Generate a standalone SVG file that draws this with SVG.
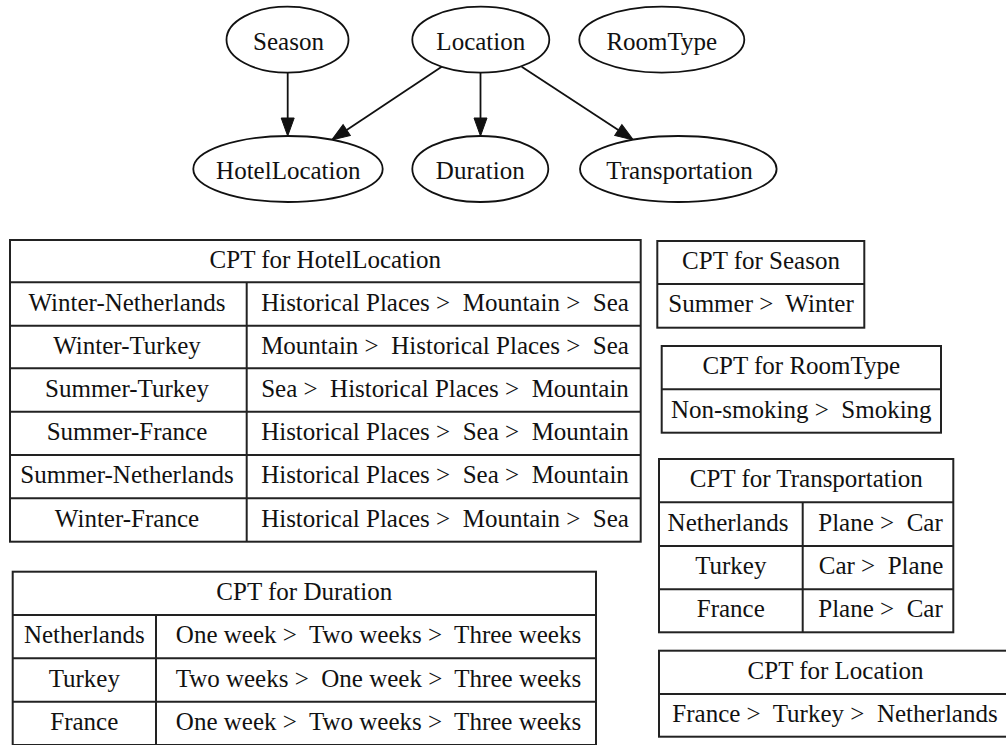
<svg xmlns="http://www.w3.org/2000/svg" width="1006" height="745" viewBox="0 0 1006 745">
  <style>
    .node ellipse { fill: #ffffff; stroke: #111111; stroke-width: 1.8; }
    .node text { font-family: "Liberation Serif", "Times New Roman", serif; font-size: 25px; fill: #111111; text-anchor: middle; }
    .edge { fill: none; stroke: #111111; stroke-width: 1.8; }
    .cpt rect { fill: #ffffff; stroke: #222222; stroke-width: 2; }
    .cpt line { stroke: #222222; stroke-width: 2; }
    .cpt text { font-family: "Liberation Serif", "Times New Roman", serif; font-size: 25px; fill: #111111; text-anchor: middle; }
  </style>
  <defs>
    <marker id="arrow" markerUnits="userSpaceOnUse" markerWidth="20" markerHeight="14" viewBox="0 -7 20 14" refX="0" refY="0" orient="auto" overflow="visible">
      <path d="M0,-6.5 L18,0 L0,6.5 Z" fill="#111111" stroke="#111111" stroke-width="1"/>
    </marker>
  </defs>

  <rect width="1006" height="745" fill="#ffffff"/>

  <!-- Bayesian network -->
  <g id="edges">
    <path class="edge" d="M287.7,72.7 L287.7,118" marker-end="url(#arrow)"/>
    <path class="edge" d="M441.7,66.7 L346.7,130" marker-end="url(#arrow)"/>
    <path class="edge" d="M480.5,72.7 L480.5,118" marker-end="url(#arrow)"/>
    <path class="edge" d="M521.7,66.7 L618.3,130.1" marker-end="url(#arrow)"/>
  </g>

  <g id="node-season" class="node">
    <ellipse cx="287.5" cy="39.7" rx="61" ry="33"/>
    <text x="288.5" y="49.5">Season</text>
  </g>
  <g id="node-location" class="node">
    <ellipse cx="480.8" cy="39.7" rx="68.5" ry="33"/>
    <text x="480.8" y="49.5">Location</text>
  </g>
  <g id="node-roomtype" class="node">
    <ellipse cx="661.8" cy="39.7" rx="82.5" ry="33"/>
    <text x="661.8" y="49.5">RoomType</text>
  </g>
  <g id="node-hotellocation" class="node">
    <ellipse cx="288" cy="169" rx="94.7" ry="33"/>
    <text x="288.3" y="178.5">HotelLocation</text>
  </g>
  <g id="node-duration" class="node">
    <ellipse cx="480.3" cy="169" rx="68" ry="33"/>
    <text x="480.3" y="178.5">Duration</text>
  </g>
  <g id="node-transportation" class="node">
    <ellipse cx="678.3" cy="169" rx="98.3" ry="33"/>
    <text x="679.5" y="178.5">Transportation</text>
  </g>

  <!-- Conditional probability tables -->
  <g id="cpt-hotellocation" class="cpt">
    <rect x="10" y="240" width="630.7" height="301.7"/>
    <line x1="10" y1="282.3" x2="640.7" y2="282.3"/>
    <line x1="10" y1="325.7" x2="640.7" y2="325.7"/>
    <line x1="10" y1="368.3" x2="640.7" y2="368.3"/>
    <line x1="10" y1="411.7" x2="640.7" y2="411.7"/>
    <line x1="10" y1="455" x2="640.7" y2="455"/>
    <line x1="10" y1="498.3" x2="640.7" y2="498.3"/>
    <line x1="246.7" y1="282.3" x2="246.7" y2="541.7"/>
    <text x="325.3" y="267.5">CPT for HotelLocation</text>
    <text x="127" y="310.5">Winter-Netherlands</text>
    <text x="127" y="353.5">Winter-Turkey</text>
    <text x="127" y="396.5">Summer-Turkey</text>
    <text x="127" y="439.8">Summer-France</text>
    <text x="127" y="483.2">Summer-Netherlands</text>
    <text x="127" y="526.5">Winter-France</text>
    <text x="445" y="310.5">Historical Places &gt;&#160; Mountain &gt;&#160; Sea</text>
    <text x="445" y="353.5">Mountain &gt;&#160; Historical Places &gt;&#160; Sea</text>
    <text x="445" y="396.5">Sea &gt;&#160; Historical Places &gt;&#160; Mountain</text>
    <text x="445" y="439.8">Historical Places &gt;&#160; Sea &gt;&#160; Mountain</text>
    <text x="445" y="483.2">Historical Places &gt;&#160; Sea &gt;&#160; Mountain</text>
    <text x="445" y="526.5">Historical Places &gt;&#160; Mountain &gt;&#160; Sea</text>
  </g>

  <g id="cpt-season" class="cpt">
    <rect x="657.3" y="241" width="207" height="86.7"/>
    <line x1="657.3" y1="284" x2="864.3" y2="284"/>
    <text x="761" y="269">CPT for Season</text>
    <text x="761" y="312.3">Summer &gt;&#160; Winter</text>
  </g>

  <g id="cpt-roomtype" class="cpt">
    <rect x="661.7" y="346" width="279.3" height="86.7"/>
    <line x1="661.7" y1="389.3" x2="941" y2="389.3"/>
    <text x="801.3" y="374.2">CPT for RoomType</text>
    <text x="801.3" y="417.5">Non-smoking &gt;&#160; Smoking</text>
  </g>

  <g id="cpt-transportation" class="cpt">
    <rect x="659" y="459" width="294.3" height="173.3"/>
    <line x1="659" y1="502.3" x2="953.3" y2="502.3"/>
    <line x1="659" y1="546" x2="953.3" y2="546"/>
    <line x1="659" y1="589.3" x2="953.3" y2="589.3"/>
    <line x1="802.7" y1="502.3" x2="802.7" y2="632.3"/>
    <text x="806.2" y="487.2">CPT for Transportation</text>
    <text x="728" y="530.7">Netherlands</text>
    <text x="730.8" y="574.2">Turkey</text>
    <text x="730.8" y="617.3">France</text>
    <text x="880.5" y="530.7">Plane &gt;&#160; Car</text>
    <text x="881" y="574.2">Car &gt;&#160; Plane</text>
    <text x="880.5" y="617.3">Plane &gt;&#160; Car</text>
  </g>

  <g id="cpt-location" class="cpt">
    <rect x="659" y="650.7" width="353" height="86"/>
    <line x1="659" y1="694" x2="1012" y2="694"/>
    <text x="835.5" y="678.8">CPT for Location</text>
    <text x="835" y="721.8">France &gt;&#160; Turkey &gt;&#160; Netherlands</text>
  </g>

  <g id="cpt-duration" class="cpt">
    <rect x="12.7" y="571.7" width="583.3" height="173.3"/>
    <line x1="12.7" y1="615" x2="596" y2="615"/>
    <line x1="12.7" y1="658.3" x2="596" y2="658.3"/>
    <line x1="12.7" y1="701.7" x2="596" y2="701.7"/>
    <line x1="156" y1="615" x2="156" y2="745"/>
    <text x="304.3" y="599.8">CPT for Duration</text>
    <text x="84.3" y="643.2">Netherlands</text>
    <text x="84.3" y="686.5">Turkey</text>
    <text x="84.3" y="729.8">France</text>
    <text x="378.5" y="643.2">One week &gt;&#160; Two weeks &gt;&#160; Three weeks</text>
    <text x="378.5" y="686.5">Two weeks &gt;&#160; One week &gt;&#160; Three weeks</text>
    <text x="378.5" y="729.8">One week &gt;&#160; Two weeks &gt;&#160; Three weeks</text>
  </g>
</svg>
